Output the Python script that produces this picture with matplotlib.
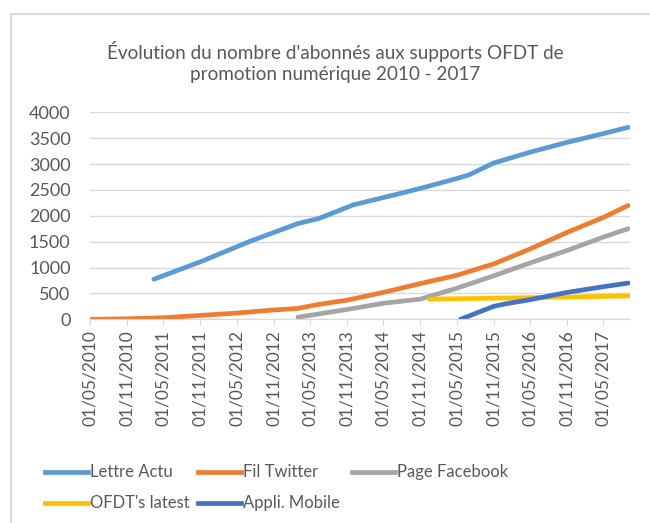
import datetime as dt
import matplotlib
matplotlib.use("Agg")
import matplotlib.pyplot as plt
import matplotlib.dates as mdates
from matplotlib.lines import Line2D

# ============================================================
# DONNEES
# ============================================================

lettre_dates = ["2011-03-15", "2011-11-01", "2012-07-01", "2013-03-01", "2013-06-15",
                "2013-12-01", "2014-07-01", "2014-12-01", "2015-05-01", "2015-07-01",
                "2015-11-01", "2016-05-01", "2016-11-01", "2017-05-01", "2017-09-01"]
lettre_vals = [775, 1110, 1500, 1850, 1950,
               2210, 2410, 2560, 2720, 2790,
               3020, 3230, 3420, 3590, 3710]

twitter_dates = ["2010-05-01", "2010-11-01", "2011-05-01", "2011-11-01", "2012-05-01",
                 "2012-11-01", "2013-03-01", "2013-06-01", "2013-11-01", "2014-05-01",
                 "2014-11-01", "2015-05-01", "2015-11-01", "2016-05-01", "2016-11-01",
                 "2017-05-01", "2017-09-01"]
twitter_vals = [0, 10, 30, 75, 120,
                180, 210, 280, 370, 520,
                690, 850, 1070, 1360, 1680,
                1970, 2200]

facebook_dates = ["2013-03-01", "2013-11-01", "2014-05-01", "2014-11-01", "2015-05-01",
                  "2015-11-01", "2016-05-01", "2016-11-01", "2017-05-01", "2017-09-01"]
facebook_vals = [40, 190, 310, 390, 600,
                 840, 1090, 1330, 1590, 1750]

latest_dates = ["2014-12-15", "2016-03-01", "2017-09-01"]
latest_vals = [390, 415, 450]

appli_dates = ["2015-05-20", "2015-11-01", "2016-01-01", "2016-05-01", "2016-11-01",
               "2017-05-01", "2017-09-01"]
appli_vals = [0, 250, 300, 380, 520, 630, 700]

noms = ["Lettre Actu", "Fil Twitter", "Page Facebook", "OFDT's latest", "Appli. Mobile"]
couleurs = ["#5B9BD5", "#ED7D31", "#A5A5A5", "#FFC000", "#4472C4"]

titre = "Évolution du nombre d'abonnés aux supports OFDT de\npromotion numérique 2010 - 2017"


def to_dates(lst):
    return [dt.datetime.strptime(d, "%Y-%m-%d") for d in lst]


series = [
    (to_dates(lettre_dates), lettre_vals),
    (to_dates(twitter_dates), twitter_vals),
    (to_dates(facebook_dates), facebook_vals),
    (to_dates(latest_dates), latest_vals),
    (to_dates(appli_dates), appli_vals),
]

# ============================================================
# GRAPHIQUE
# ============================================================

plt.rcParams["font.family"] = ["Lato", "DejaVu Sans"]
GRIS_TXT = "#595959"
GRIS_LIG = "#d9d9d9"

fig = plt.figure(figsize=(6.5, 5.23), dpi=100)
ax = fig.add_axes([90/650, 1-319.3/523, 540/650, 207/523])

for (d, v), nom, c in zip(series, noms, couleurs):
    ax.plot(d, v, color=c, lw=3.4, solid_capstyle="round", solid_joinstyle="round",
            label=nom)

ax.set_ylim(0, 4000)
ax.set_yticks(range(0, 4001, 500))
ax.set_xlim(dt.datetime(2010, 5, 1), dt.datetime(2017, 9, 10))
ax.xaxis.set_major_locator(mdates.MonthLocator(bymonth=(5, 11), bymonthday=1))
ax.xaxis.set_major_formatter(mdates.DateFormatter("%d/%m/%Y"))

ax.grid(axis="y", color=GRIS_LIG, lw=1)
ax.set_axisbelow(True)
for s in ["left", "right", "top"]:
    ax.spines[s].set_visible(False)
ax.spines["bottom"].set_color(GRIS_LIG)
ax.tick_params(axis="y", length=0, pad=14, labelsize=13, labelcolor=GRIS_TXT)
ax.tick_params(axis="x", length=4, color=GRIS_LIG, pad=4, labelsize=12.5,
               labelcolor=GRIS_TXT, labelrotation=90)

fig.text(335/650, 1-62/523, titre, ha="center", va="center", fontsize=13.6,
         color=GRIS_TXT, linespacing=1.3)

# bordure du graphique
fig.add_artist(Line2D([11/650, 11/650], [0, 1-14/523], color=GRIS_LIG, lw=1.5))
fig.add_artist(Line2D([11/650, 1], [1-14/523, 1-14/523], color=GRIS_LIG, lw=1.5))

# legende
pos = [(45, 472), (198, 472), (352, 472), (45, 503), (198, 503)]
for (x, y), nom, c in zip(pos, noms, couleurs):
    fig.add_artist(Line2D([x/650, (x+43)/650], [1-y/523, 1-y/523], color=c, lw=3.4))
    fig.text((x+45)/650, 1-y/523, nom, ha="left", va="center", fontsize=12,
             color=GRIS_TXT)

fig.savefig("out.png", dpi=100)
